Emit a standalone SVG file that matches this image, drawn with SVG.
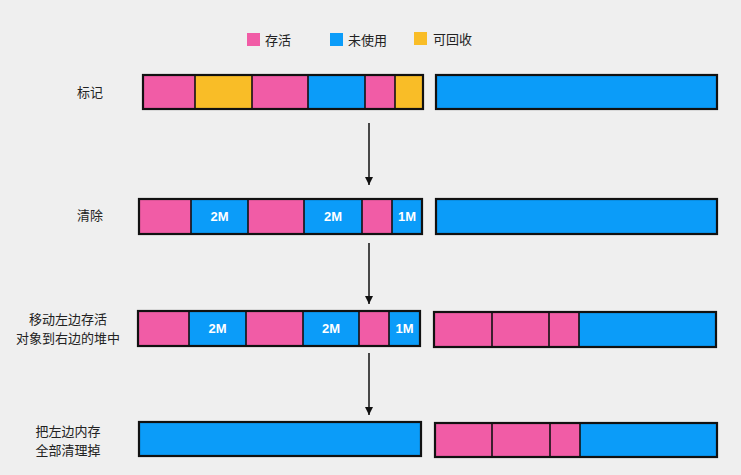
<svg xmlns="http://www.w3.org/2000/svg" width="741" height="475" viewBox="0 0 741 475">
<style>
.bg{fill:#efefef}
.p{fill:#f15ca6}
.b{fill:#0b9cf9}
.y{fill:#f9bd27}
.frame{fill:none;stroke:#111;stroke-width:2.2}
.div{stroke:#111;stroke-width:1.6}
.lbl{font-family:"Noto Sans CJK SC","Noto Sans",sans-serif;font-size:13px;fill:#222;text-anchor:middle}
.leg{font-family:"Noto Sans CJK SC","Noto Sans",sans-serif;font-size:13px;fill:#222}
.sz{font-family:"Liberation Sans",Arial,sans-serif;font-size:13px;font-weight:bold;fill:#fff;text-anchor:middle}
.conn{stroke:#111;stroke-width:1.5;fill:none}
</style>
<defs>
<marker id="ah" viewBox="0 0 8 8" refX="8" refY="4" markerWidth="8" markerHeight="8" markerUnits="userSpaceOnUse" orient="auto">
<path d="M0,0 L8,4 L0,8 Z" fill="#111"/>
</marker>
</defs>
<rect class="bg" x="0" y="0" width="741" height="475"/>

<g id="legend">
<rect class="p" x="247" y="33" width="13" height="13"/>
<text class="leg" x="265" y="44.5">存活</text>
<rect class="b" x="330" y="33" width="13" height="13"/>
<text class="leg" x="348" y="44.5">未使用</text>
<rect class="y" x="414" y="32" width="13" height="13"/>
<text class="leg" x="433" y="44">可回收</text>
</g>

<g id="label-mark"><text class="lbl" x="90" y="97">标记</text></g>
<g id="label-clear"><text class="lbl" x="90" y="220">清除</text></g>
<g id="label-move"><text class="lbl" x="68" y="324">移动左边存活</text><text class="lbl" x="68" y="343">对象到右边的堆中</text></g>
<g id="label-clean"><text class="lbl" x="68" y="436">把左边内存</text><text class="lbl" x="68" y="455">全部清理掉</text></g>

<g id="row1-left">
<rect class="p" x="143" y="75" width="52" height="34"/>
<rect class="y" x="195" y="75" width="57" height="34"/>
<rect class="p" x="252" y="75" width="56" height="34"/>
<rect class="b" x="308" y="75" width="57" height="34"/>
<rect class="p" x="365" y="75" width="30" height="34"/>
<rect class="y" x="395" y="75" width="28" height="34"/>
<line class="div" x1="195" y1="75" x2="195" y2="109"/>
<line class="div" x1="252" y1="75" x2="252" y2="109"/>
<line class="div" x1="308" y1="75" x2="308" y2="109"/>
<line class="div" x1="365" y1="75" x2="365" y2="109"/>
<line class="div" x1="395" y1="75" x2="395" y2="109"/>
<rect class="frame" x="143" y="75" width="280" height="34"/>
</g>
<g id="row1-right">
<rect class="b" x="436" y="75" width="281" height="34"/>
<rect class="frame" x="436" y="75" width="281" height="34"/>
</g>

<g id="row2-left">
<rect class="p" x="139" y="199" width="52" height="35"/>
<rect class="b" x="191" y="199" width="57" height="35"/>
<rect class="p" x="248" y="199" width="56" height="35"/>
<rect class="b" x="304" y="199" width="58" height="35"/>
<rect class="p" x="362" y="199" width="30" height="35"/>
<rect class="b" x="392" y="199" width="30" height="35"/>
<line class="div" x1="191" y1="199" x2="191" y2="234"/>
<line class="div" x1="248" y1="199" x2="248" y2="234"/>
<line class="div" x1="304" y1="199" x2="304" y2="234"/>
<line class="div" x1="362" y1="199" x2="362" y2="234"/>
<line class="div" x1="392" y1="199" x2="392" y2="234"/>
<rect class="frame" x="139" y="199" width="283" height="35"/>
<text class="sz" x="219.5" y="221">2M</text>
<text class="sz" x="333" y="221">2M</text>
<text class="sz" x="407" y="221">1M</text>
</g>
<g id="row2-right">
<rect class="b" x="436" y="199" width="281" height="35"/>
<rect class="frame" x="436" y="199" width="281" height="35"/>
</g>

<g id="row3-left">
<rect class="p" x="138" y="311" width="51" height="35"/>
<rect class="b" x="189" y="311" width="57" height="35"/>
<rect class="p" x="246" y="311" width="57" height="35"/>
<rect class="b" x="303" y="311" width="56" height="35"/>
<rect class="p" x="359" y="311" width="30" height="35"/>
<rect class="b" x="389" y="311" width="31" height="35"/>
<line class="div" x1="189" y1="311" x2="189" y2="346"/>
<line class="div" x1="246" y1="311" x2="246" y2="346"/>
<line class="div" x1="303" y1="311" x2="303" y2="346"/>
<line class="div" x1="359" y1="311" x2="359" y2="346"/>
<line class="div" x1="389" y1="311" x2="389" y2="346"/>
<rect class="frame" x="138" y="311" width="282" height="35"/>
<text class="sz" x="217.5" y="333">2M</text>
<text class="sz" x="331" y="333">2M</text>
<text class="sz" x="404.5" y="333">1M</text>
</g>
<g id="row3-right">
<rect class="p" x="434" y="312" width="58" height="35"/>
<rect class="p" x="492" y="312" width="57" height="35"/>
<rect class="p" x="549" y="312" width="30" height="35"/>
<rect class="b" x="579" y="312" width="137" height="35"/>
<line class="div" x1="492" y1="312" x2="492" y2="347"/>
<line class="div" x1="549" y1="312" x2="549" y2="347"/>
<line class="div" x1="579" y1="312" x2="579" y2="347"/>
<rect class="frame" x="434" y="312" width="282" height="35"/>
</g>

<g id="row4-left">
<rect class="b" x="139" y="422" width="282" height="34"/>
<rect class="frame" x="139" y="422" width="282" height="34"/>
</g>
<g id="row4-right">
<rect class="p" x="435" y="423" width="57" height="34"/>
<rect class="p" x="492" y="423" width="58" height="34"/>
<rect class="p" x="550" y="423" width="30" height="34"/>
<rect class="b" x="580" y="423" width="137" height="34"/>
<line class="div" x1="492" y1="423" x2="492" y2="457"/>
<line class="div" x1="550" y1="423" x2="550" y2="457"/>
<line class="div" x1="580" y1="423" x2="580" y2="457"/>
<rect class="frame" x="435" y="423" width="282" height="34"/>
</g>

<g id="connectors">
<line class="conn" x1="369" y1="123" x2="369" y2="185" marker-end="url(#ah)"/>
<line class="conn" x1="369" y1="243" x2="369" y2="304" marker-end="url(#ah)"/>
<line class="conn" x1="369" y1="353" x2="369" y2="415" marker-end="url(#ah)"/>
</g>
</svg>
